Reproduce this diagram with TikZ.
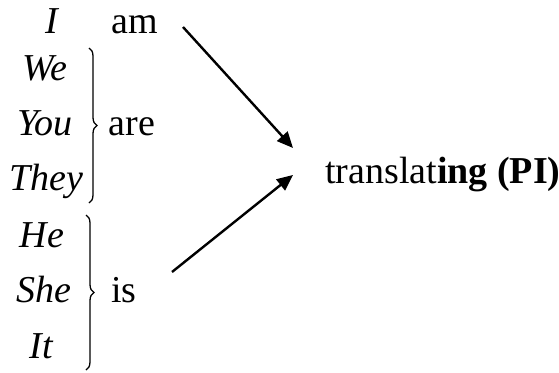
\documentclass[tikz,border=0pt]{standalone}
\usepackage{fontspec}
\setmainfont{Liberation Serif}
\usetikzlibrary{decorations.pathreplacing,arrows.meta}
\begin{document}
\begin{tikzpicture}[x=1pt,y=-1pt,
  txt/.style={inner sep=0pt, anchor=base, font=\fontsize{38}{40}\selectfont},
  pron/.style={txt, font=\fontsize{38}{40}\selectfont\itshape},
  bracedeco/.style={decorate, decoration={brace, amplitude=8pt}, line width=1.3pt},
  arr/.style={line width=2.4pt, -{Triangle[length=16pt,width=14pt]}}]
\useasboundingbox (0,0) rectangle (559,372);
\node[pron] (I) at (52,33) {I};
\node[txt] (am) at (135,33) {am};
\node[pron] (we) at (45,80) {We};
\node[pron] (you) at (45,135) {You};
\node[pron] (they) at (46,190) {They};
\node[txt] (are) at (132,135) {are};
\node[pron] (he) at (42,247) {He};
\node[pron] (she) at (44,302) {She};
\node[pron] (it) at (41,358) {It};
\node[txt] (is) at (124,302) {is};
\node[txt, anchor=base west] (tr) at (325,183) {translat\textbf{ing (PI)}};
\coordinate (b1t) at (89,48);
\coordinate (b1b) at (89,203);
\coordinate (b2t) at (86,215);
\coordinate (b2b) at (86,370);
\draw[bracedeco] (b1t) -- (b1b);
\draw[bracedeco] (b2t) -- (b2b);
\coordinate (a1s) at (183,27);
\coordinate (a1e) at (293,148);
\coordinate (a2s) at (172,272);
\coordinate (a2e) at (293,175);
\draw[arr] (a1s) -- (a1e);
\draw[arr] (a2s) -- (a2e);
\end{tikzpicture}
\end{document}
